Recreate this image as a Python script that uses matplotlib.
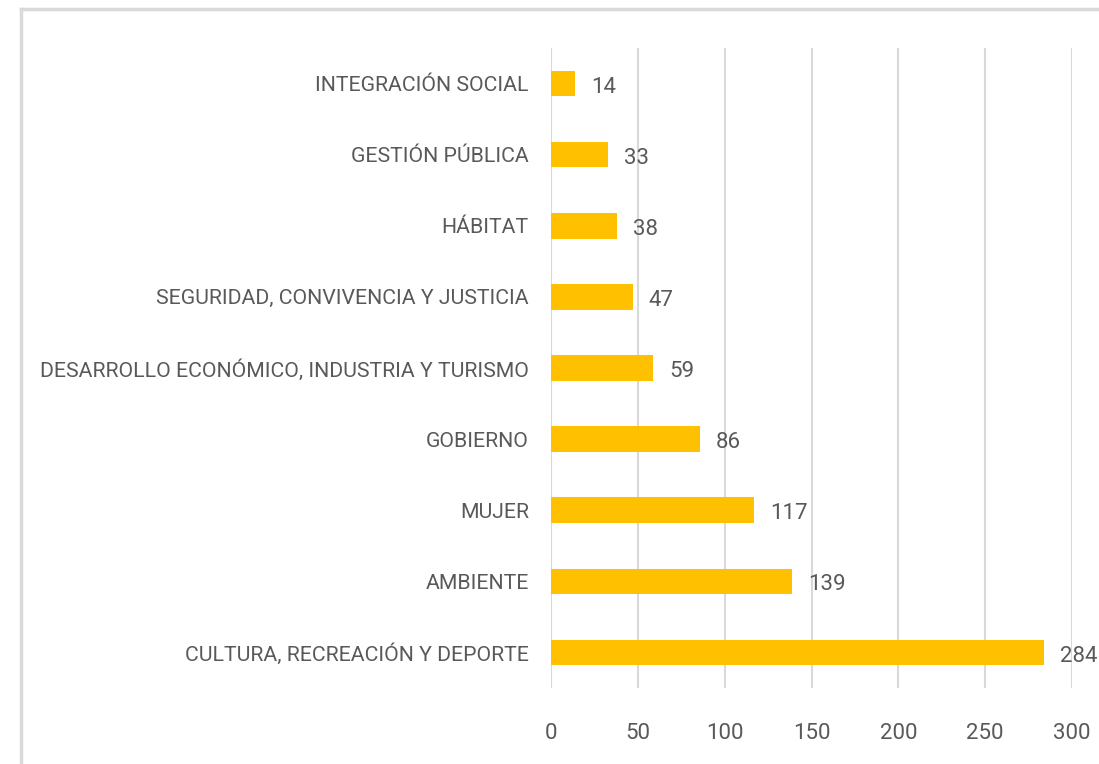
import matplotlib

matplotlib.use("Agg")
import matplotlib.pyplot as plt
from matplotlib.lines import Line2D

categories = [
    "CULTURA, RECREACIÓN Y DEPORTE",
    "AMBIENTE",
    "MUJER",
    "GOBIERNO",
    "DESARROLLO ECONÓMICO, INDUSTRIA Y TURISMO",
    "SEGURIDAD, CONVIVENCIA Y JUSTICIA",
    "HÁBITAT",
    "GESTIÓN PÚBLICA",
    "INTEGRACIÓN SOCIAL",
]
values = [284, 139, 117, 86, 59, 47, 38, 33, 14]
xticks = [0, 50, 100, 150, 200, 250, 300]

plt.rcParams["font.family"] = ["Roboto", "DejaVu Sans"]
text_color = "#595959"
grid_color = "#D9D9D9"

fig = plt.figure(figsize=(10.99, 7.64), dpi=100)
ax = fig.add_axes([551 / 1099, 1 - 688 / 764, (1072 - 551) / 1099, 640 / 764])

y = range(len(categories))
ax.barh(y, values, height=0.36, color="#FFC000", zorder=3)
for yi, v in zip(y, values):
    ax.text(v + 9, yi - 0.05, str(v), va="center", ha="left",
            fontsize=16, color=text_color)

ax.set_xlim(0, 300)
ax.set_ylim(-0.5, len(categories) - 0.5)
ax.set_xticks(xticks)
ax.set_xticklabels([str(t) for t in xticks], fontsize=16, color=text_color)
ax.set_yticks(list(y))
ax.set_yticklabels(categories, fontsize=15.3, color=text_color)
ax.tick_params(axis="both", length=0)
ax.tick_params(axis="y", pad=16)
ax.tick_params(axis="x", pad=25)
ax.grid(axis="x", color=grid_color, linewidth=1.5, zorder=0)
for s in ax.spines.values():
    s.set_visible(False)

# light frame around the chart (top and left visible)
fig.add_artist(Line2D([21 / 1099, 1.0], [1 - 9 / 764, 1 - 9 / 764],
                      transform=fig.transFigure, color=grid_color, linewidth=2.5))
fig.add_artist(Line2D([21 / 1099, 21 / 1099], [0.0, 1 - 9 / 764],
                      transform=fig.transFigure, color=grid_color, linewidth=2.5))

fig.savefig("out.png", dpi=100)
